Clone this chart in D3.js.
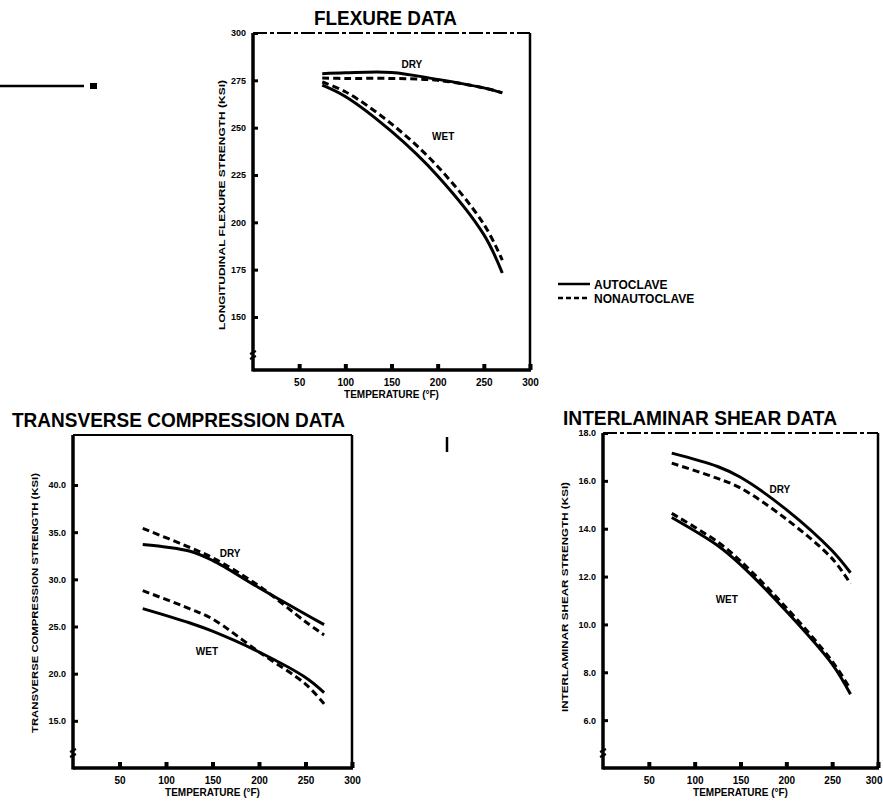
<!DOCTYPE html>
<html>
<head>
<meta charset="utf-8">
<script src="https://cdn.jsdelivr.net/npm/d3@7"></script>
<style>
  body { margin: 0; background: #fff; }
  text { font-family: "Liberation Sans", Arial, sans-serif; font-weight: bold; fill: #000; }
</style>
</head>
<body>
<div id="chart"></div>
<script>
// temperature axis (deg F), shared by all three panels
const tempTicks = [50, 100, 150, 200, 250, 300];

// flexure data
const flexTemps = [75, 100, 150, 200, 250, 270];
const flexDryAuto = [278.5, 279, 279.2, 275.5, 271, 268.4];
const flexDryNon = [276.2, 276, 276, 275, 271, 268.4];
const flexWetAuto = [272.5, 266.5, 248, 224.5, 193.5, 173.2];
const flexWetNon = [274.1, 269, 252, 229.5, 199, 180];
const flexTicks = [150, 175, 200, 225, 250, 275, 300];

// transverse compression data
const transTemps = [75, 125, 150, 200, 250, 270];
const transDryAuto = [33.7, 33.0, 32.0, 29.1, 26.3, 25.2];
const transDryNon = [35.4, 33.4, 32.3, 29.3, 25.5, 24.1];
const transWetAuto = [26.9, 25.4, 24.5, 22.3, 19.6, 18.0];
const transWetNon = [28.8, 26.9, 25.8, 22.3, 18.9, 16.8];
const transTicks = [15, 20, 25, 30, 35, 40];

// interlaminar shear data
const ilsTemps = [75, 125, 150, 200, 250, 270];
const ilsDryAuto = [17.16, 16.6, 16.15, 14.8, 13.08, 12.16];
const ilsDryNon = [16.74, 16.1, 15.7, 14.4, 12.75, 11.7];
const ilsWetAuto = [14.47, 13.3, 12.5, 10.55, 8.34, 7.08];
const ilsWetNon = [14.64, 13.45, 12.65, 10.7, 8.46, 7.29];
const ilsTicks = [6, 8, 10, 12, 14, 16, 18];

const W = 883, H = 805;
const svg = d3.select("#chart").append("svg")
  .attr("width", W).attr("height", H);

svg.append("rect").attr("width", W).attr("height", H).attr("fill", "#fff");

function drawPanel(p) {
  const x = d3.scaleLinear().domain([0, 300]).range([p.left, p.right]);
  const y = d3.scaleLinear().domain(p.yDomain).range([p.bottom, p.top]);
  const g = svg.append("g");

  // title
  g.append("text")
    .attr("x", p.titleX).attr("y", p.titleY)
    .attr("font-size", 20)
    .attr("textLength", p.titleLen).attr("lengthAdjust", "spacingAndGlyphs")
    .text(p.title);

  // frame
  g.append("line").attr("x1", p.left).attr("x2", p.right).attr("y1", p.top).attr("y2", p.top)
    .attr("stroke", "#000").attr("stroke-width", 2)
    .attr("stroke-dasharray", p.dashedTop ? "14,3,4,3" : null);
  g.append("line").attr("x1", p.right).attr("x2", p.right).attr("y1", p.top).attr("y2", p.bottom)
    .attr("stroke", "#000").attr("stroke-width", 2.5);
  g.append("line").attr("x1", p.left).attr("x2", p.right + 1).attr("y1", p.bottom).attr("y2", p.bottom)
    .attr("stroke", "#000").attr("stroke-width", 3.5);
  g.append("line").attr("x1", p.left).attr("x2", p.left).attr("y1", p.top).attr("y2", p.bottom + 1.5)
    .attr("stroke", "#000").attr("stroke-width", 3.5);

  // x axis
  const xa = g.append("g").attr("transform", `translate(0,${p.bottom})`)
    .call(d3.axisBottom(x).tickValues(tempTicks).tickSize(-6).tickPadding(9));
  xa.select(".domain").remove();
  xa.selectAll(".tick line").attr("stroke", "#000").attr("stroke-width", 4);
  xa.selectAll(".tick text").attr("font-size", 10).attr("font-weight", 900)
    .style("font-family", "Liberation Sans, Arial, sans-serif");
  if (p.lastTickEnd) {
    xa.selectAll(".tick text").filter(d => d === 300).attr("text-anchor", "end").attr("dx", 4);
  }

  // y axis
  const ya = g.append("g").attr("transform", `translate(${p.left},0)`)
    .call(d3.axisLeft(y).tickValues(p.yTicks).tickSize(-5).tickPadding(7).tickFormat(p.fmt));
  ya.select(".domain").remove();
  ya.selectAll(".tick line").attr("stroke", "#000").attr("stroke-width", 3);
  ya.selectAll(".tick text").attr("font-size", 9).attr("font-weight", 900)
    .style("font-family", "Liberation Sans, Arial, sans-serif");

  // axis break mark
  g.append("path")
    .attr("d", `M${p.left - 3},${p.bottom - 16} l6,-3 M${p.left - 3},${p.bottom - 11} l6,-3`)
    .attr("stroke", "#000").attr("stroke-width", 2).attr("fill", "none");

  // axis titles
  g.append("text")
    .attr("x", (p.left + p.right) / 2).attr("y", p.bottom + 28)
    .attr("text-anchor", "middle").attr("font-size", 10)
    .text("TEMPERATURE (°F)");
  g.append("text")
    .attr("transform", `translate(${p.yTitleX},${p.yTitleY}) rotate(-90)`)
    .attr("text-anchor", "middle").attr("font-size", 9)
    .attr("textLength", p.yTitleLen).attr("lengthAdjust", "spacingAndGlyphs")
    .text(p.yTitle);

  // curves
  const line = d3.line()
    .x(d => x(d[0])).y(d => y(d[1]))
    .curve(d3.curveCatmullRom.alpha(0.5));
  p.series.forEach(s => {
    g.append("path")
      .datum(p.temps.map((t, i) => [t, s.values[i]]))
      .attr("d", line)
      .attr("fill", "none")
      .attr("stroke", "#000")
      .attr("stroke-width", 3)
      .attr("stroke-dasharray", s.dashed ? "7,4" : null);
  });

  // DRY / WET labels
  p.labels.forEach(l => {
    g.append("text")
      .attr("x", x(l.t)).attr("y", y(l.v))
      .attr("text-anchor", "middle").attr("font-size", 10).attr("font-weight", 900)
      .text(l.text);
  });
}

drawPanel({
  title: "FLEXURE DATA", titleX: 314, titleY: 25, titleLen: 143,
  left: 253, right: 530, top: 33, bottom: 370,
  yDomain: [122, 300], yTicks: flexTicks, fmt: d3.format("d"), dashedTop: true,
  yTitle: "LONGITUDINAL FLEXURE STRENGTH (KSI)", yTitleX: 225, yTitleY: 205, yTitleLen: 250,
  temps: flexTemps,
  series: [
    { values: flexDryAuto, dashed: false },
    { values: flexDryNon, dashed: true },
    { values: flexWetAuto, dashed: false },
    { values: flexWetNon, dashed: true }
  ],
  labels: [{ text: "DRY", t: 172, v: 281.5 }, { text: "WET", t: 206, v: 243.5 }]
});

drawPanel({
  title: "TRANSVERSE COMPRESSION DATA", titleX: 12, titleY: 427, titleLen: 333,
  left: 73, right: 352, top: 435, bottom: 768,
  yDomain: [10, 45.3], yTicks: transTicks, fmt: d3.format(".1f"), dashedTop: false,
  yTitle: "TRANSVERSE COMPRESSION STRENGTH (KSI)", yTitleX: 38, yTitleY: 603, yTitleLen: 260,
  temps: transTemps,
  series: [
    { values: transDryAuto, dashed: false },
    { values: transDryNon, dashed: true },
    { values: transWetAuto, dashed: false },
    { values: transWetNon, dashed: true }
  ],
  labels: [{ text: "DRY", t: 169, v: 32.4 }, { text: "WET", t: 144, v: 22.0 }]
});

drawPanel({
  title: "INTERLAMINAR SHEAR DATA", titleX: 563, titleY: 425, titleLen: 274,
  left: 603, right: 878, top: 433, bottom: 768, lastTickEnd: true,
  yDomain: [4, 18], yTicks: ilsTicks, fmt: d3.format(".1f"), dashedTop: true,
  yTitle: "INTERLAMINAR SHEAR STRENGTH (KSI)", yTitleX: 568, yTitleY: 597, yTitleLen: 230,
  temps: ilsTemps,
  series: [
    { values: ilsDryAuto, dashed: false },
    { values: ilsDryNon, dashed: true },
    { values: ilsWetAuto, dashed: false },
    { values: ilsWetNon, dashed: true }
  ],
  labels: [{ text: "DRY", t: 193, v: 15.5 }, { text: "WET", t: 135, v: 10.9 }]
});

// legend
const legend = svg.append("g").attr("transform", "translate(558,284)");
const legendItems = ["AUTOCLAVE", "NONAUTOCLAVE"];
legendItems.forEach((name, i) => {
  legend.append("line")
    .attr("x1", 0).attr("x2", 32).attr("y1", i * 14).attr("y2", i * 14)
    .attr("stroke", "#000").attr("stroke-width", 2.5)
    .attr("stroke-dasharray", i ? "5,3" : null);
  legend.append("text")
    .attr("x", 36).attr("y", i * 14 + 5)
    .attr("font-size", 12).attr("font-weight", 900)
    .text(name);
});

// scan marks on the original sheet
svg.append("path").attr("d", "M0,86 L84,86").attr("stroke", "#000").attr("stroke-width", 2.5);
svg.append("path").attr("d", "M90,83 L97,83 L97,89 L90,89 Z").attr("fill", "#000");
svg.append("path").attr("d", "M447,437 L447,452").attr("stroke", "#000").attr("stroke-width", 2.5);
</script>
</body>
</html>
